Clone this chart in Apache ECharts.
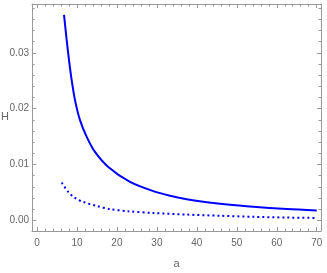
<!DOCTYPE html>
<html>
<head>
<meta charset="utf-8">
<script src="https://cdn.jsdelivr.net/npm/echarts@6/dist/echarts.min.js"></script>
<style>html,body{margin:0;padding:0;background:#fff}#c{width:327px;height:273px}</style>
</head>
<body>
<div id="c"></div>
<script>
// Data
var aSolid = [6.76, 7.43, 8.01, 8.68, 9.51, 10.76, 12.44, 14.51, 17.84, 23.27, 29.1, 33.28, 37.46, 41.6, 45.8, 54.1, 62.5, 70];
var hSolid = [0.0368, 0.03228, 0.02869, 0.0251, 0.02152, 0.01793, 0.01494, 0.01225, 0.00956, 0.00687, 0.00522, 0.0044, 0.00378, 0.00332, 0.00297, 0.00241, 0.002, 0.00177];
var aDotted = [6.18, 7.83, 9.51, 11.59, 14.93, 18.27, 22.85, 29.1, 37.46, 45.8, 54.1, 62.5, 70];
var hDotted = [0.00676, 0.00508, 0.0040, 0.00328, 0.00256, 0.00200, 0.00161, 0.00131, 0.00102, 0.00081, 0.00062, 0.00049, 0.00042];
var xMajor = [0, 10, 20, 30, 40, 50, 60, 70];
var xMinor = [2, 4, 6, 8, 12, 14, 16, 18, 22, 24, 26, 28, 32, 34, 36, 38, 42, 44, 46, 48, 52, 54, 56, 58, 62, 64, 66, 68];
var yMajor = [0, 0.01, 0.02, 0.03];
var yMinor = [0.002, 0.004, 0.006, 0.008, 0.012, 0.014, 0.016, 0.018, 0.022, 0.024, 0.026, 0.028, 0.032, 0.034, 0.036, 0.038];
var xName = 'a', yName = 'H';

var X_MIN = -1.25, X_MAX = 71.07, Y_MIN = -0.00192, Y_MAX = 0.03873;
var frameColor = '#999999', textColor = '#666666';
var font = 'Liberation Sans';

function xAx(grid, pos, ticks, len, labels, name) {
  return {
    type: 'value', gridIndex: grid, position: pos, min: X_MIN, max: X_MAX,
    name: name || '', nameLocation: 'middle', nameGap: 27,
    nameTextStyle: {color: textColor, fontSize: 11, fontFamily: font},
    axisLine: {show: grid === 0, onZero: false, lineStyle: {color: frameColor, width: 1}},
    axisTick: {show: true, inside: true, length: len, customValues: ticks, lineStyle: {color: frameColor}},
    axisLabel: {show: !!labels, customValues: labels ? ticks : undefined, margin: 7, color: textColor, fontSize: 10, fontFamily: font},
    splitLine: {show: false}
  };
}
function yAx(grid, pos, ticks, len, labels) {
  return {
    type: 'value', gridIndex: grid, position: pos, min: Y_MIN, max: Y_MAX,
    axisLine: {show: grid === 0, onZero: false, lineStyle: {color: frameColor, width: 1}},
    axisTick: {show: true, inside: true, length: len, customValues: ticks, lineStyle: {color: frameColor}},
    axisLabel: {show: !!labels, customValues: labels ? ticks : undefined, margin: 3, color: textColor, fontSize: 10, fontFamily: font,
      formatter: function (v) { return v.toFixed(2); }},
    splitLine: {show: false}
  };
}

var g = {left: 32, top: 4, right: 6, bottom: 42, containLabel: false, outerBoundsMode: 'none'};
var chart = echarts.init(document.getElementById('c'), null, {renderer: 'canvas'});
chart.setOption({
  animation: false,
  title: {text: yName, left: 1, top: 111, padding: 0,
    textStyle: {color: textColor, fontSize: 11, fontWeight: 'normal', fontFamily: font}},
  grid: [Object.assign({}, g), Object.assign({}, g)],
  xAxis: [
    xAx(0, 'bottom', xMajor, 4, true, xName),
    xAx(0, 'top', xMajor, 4, false),
    xAx(1, 'bottom', xMinor, 2.5, false),
    xAx(1, 'top', xMinor, 2.5, false)
  ],
  yAxis: [
    yAx(0, 'left', yMajor, 4, true),
    yAx(0, 'right', yMajor, 4, false),
    yAx(1, 'left', yMinor, 2.5, false),
    yAx(1, 'right', yMinor, 2.5, false)
  ],
  series: [
    {type: 'line', xAxisIndex: 0, yAxisIndex: 0, showSymbol: false, smooth: 0.3,
     data: aSolid.map(function (a, i) { return [a, hSolid[i]]; }),
     lineStyle: {color: '#0000ff', width: 2}},
    {type: 'line', xAxisIndex: 0, yAxisIndex: 0, showSymbol: false, smooth: 0.3,
     data: aDotted.map(function (a, i) { return [a, hDotted[i]]; }),
     lineStyle: {color: '#0000ff', width: 2, type: [2, 3]}}
  ]
});
</script>
</body>
</html>
